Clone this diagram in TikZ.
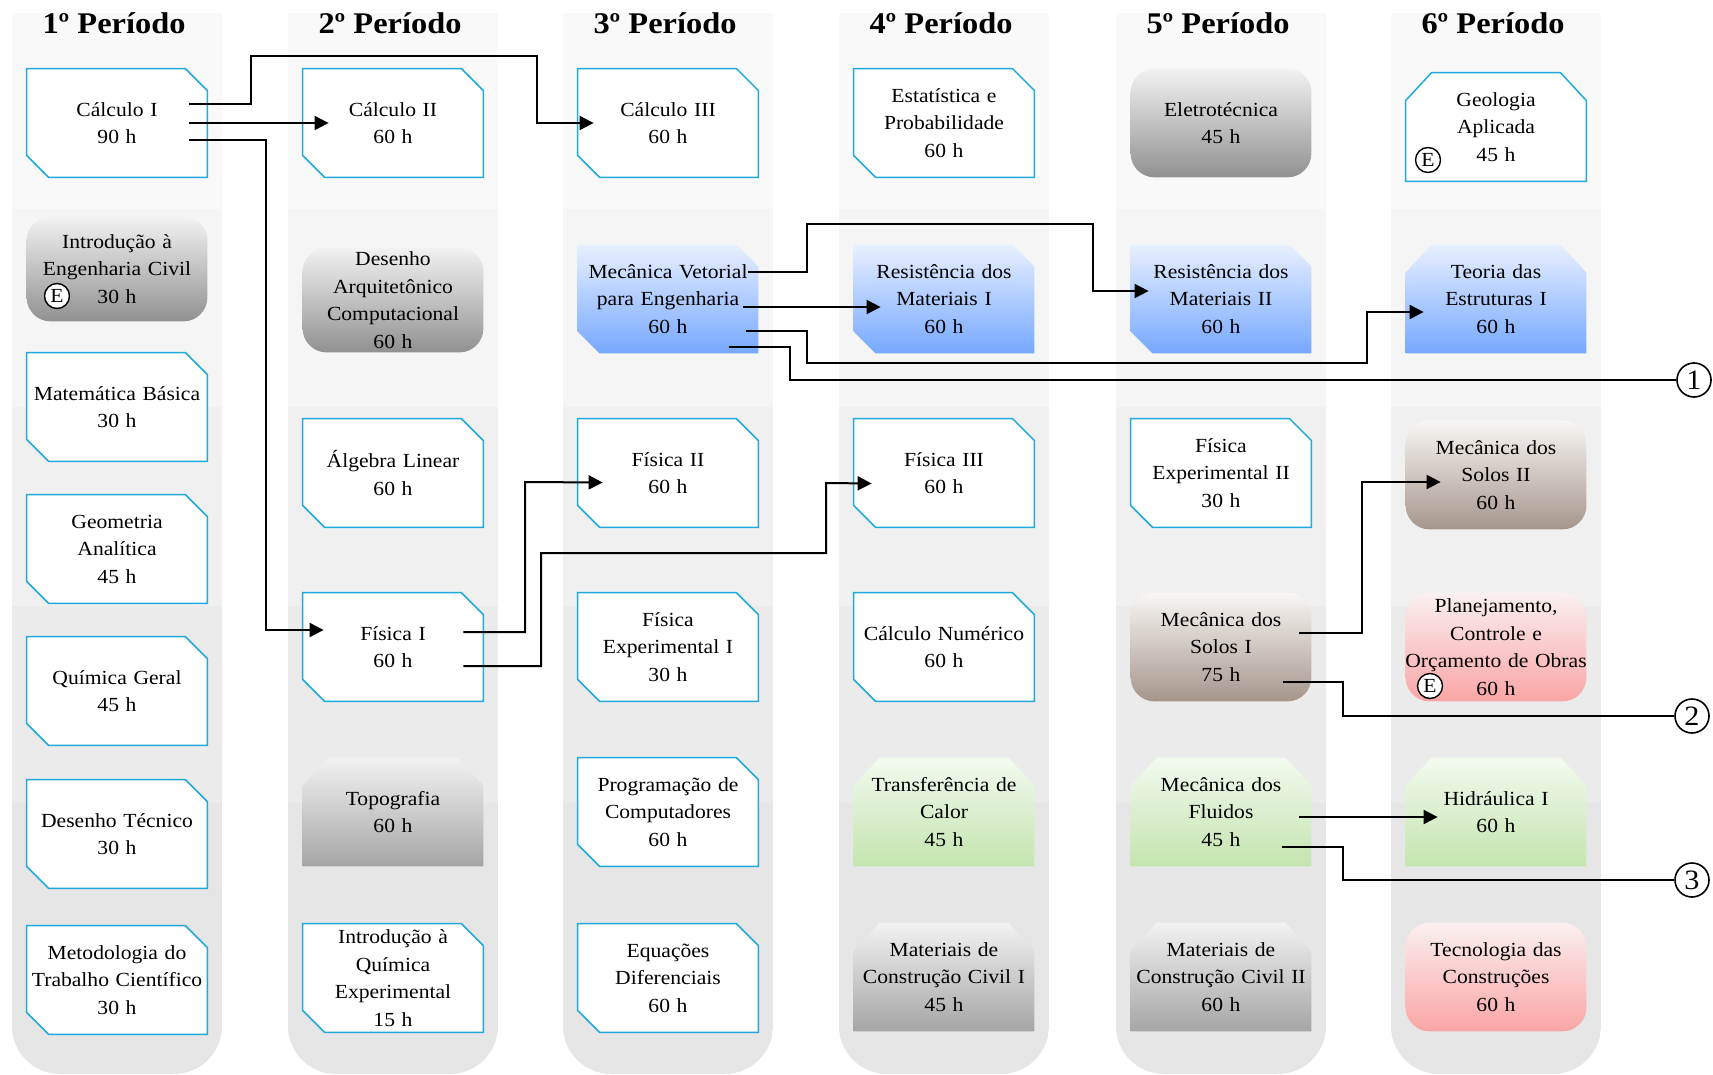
\documentclass[tikz,border=0pt]{standalone}
\usepackage{fontspec}
\setmainfont{Liberation Serif}[FakeStretch=1.08]
\usetikzlibrary{arrows.meta}

\definecolor{boxline}{RGB}{30,170,220}
\definecolor{blueT}{RGB}{232,240,255}
\definecolor{blueB}{RGB}{118,168,255}
\definecolor{grayT}{RGB}{242,242,242}
\definecolor{grayB}{RGB}{145,145,145}
\definecolor{grayB2}{RGB}{165,165,165}
\definecolor{brownT}{RGB}{248,246,244}
\definecolor{brownB}{RGB}{165,150,140}
\definecolor{greenT}{RGB}{243,250,239}
\definecolor{greenB}{RGB}{195,229,175}
\definecolor{redT}{RGB}{250,240,240}
\definecolor{redB}{RGB}{250,165,165}
\definecolor{bandA}{RGB}{249,249,249}
\definecolor{bandB}{RGB}{245,245,245}
\definecolor{bandC}{RGB}{240,240,240}
\definecolor{bandD}{RGB}{235,235,235}
\definecolor{bandE}{RGB}{230,230,230}

\pgfdeclarelayer{bg}
\pgfdeclarelayer{mid}
\pgfsetlayers{bg,mid,main}

\newcommand{\boxfont}{\fontsize{10}{13.75}\selectfont}
\newcommand{\titlefont}{\fontsize{15}{15}\selectfont\bfseries}
\newcommand{\wideline}[1]{\makebox[\linewidth]{#1}}
% outline with top right and bottom left corners cut
\newcommand{\snippath}[1]{(#1.north west) -- ([xshift=-11pt]#1.north east) -- ([yshift=-11pt]#1.north east) -- (#1.south east) -- ([xshift=11pt]#1.south west) -- ([yshift=11pt]#1.south west) -- cycle}
% outline with both top corners cut
\newcommand{\snipuppath}[1]{([yshift=-14pt]#1.north west) -- ([xshift=13pt]#1.north west) -- ([xshift=-13pt]#1.north east) -- ([yshift=-14pt]#1.north east) -- (#1.south east) -- (#1.south west) -- cycle}

\begin{document}
\begin{tikzpicture}[x=0.5pt, y=-0.5pt,
    box/.style={rectangle, text width=90pt, minimum height=54pt, inner sep=0pt, align=center, font=\boxfont},
    plain/.style={draw=boxline, line width=0.75pt, fill=white},
    blueshade/.style={top color=blueT, bottom color=blueB},
    grayshade/.style={top color=grayT, bottom color=grayB},
    lightgray/.style={top color=grayT, bottom color=grayB2},
    brownshade/.style={top color=brownT, bottom color=brownB},
    greenshade/.style={top color=greenT, bottom color=greenB},
    redshade/.style={top color=redT, bottom color=redB},
    title/.style={anchor=base, font=\titlefont},
    emark/.style={circle, draw, fill=white, line width=0.7pt, minimum size=12.5pt, inner sep=0pt, font=\fontsize{10}{10}\selectfont},
    numc/.style={circle, draw, line width=0.8pt, minimum size=17pt, inner sep=0pt, font=\fontsize{14}{14}\selectfont},
    link/.style={line width=1pt},
    arr/.style={link, -{Triangle[length=7pt,width=7pt]}}]

\useasboundingbox (0,0) rectangle (1713,1075);

% Background columns
\begin{pgfonlayer}{bg}
\foreach \cx in {117,393,668,944,1221,1496}{
  \begin{scope}
    \clip[rounded corners=24pt] (\cx-105,-100) rectangle (\cx+105,1074);
    \foreach \ya/\yb/\bc in {13.5/209/bandA, 209/407/bandB, 407/606/bandC, 606/803/bandD, 803/1080/bandE}
      \fill[\bc] (\cx-105,\ya) rectangle (\cx+105,\yb);
  \end{scope}
}
\end{pgfonlayer}

% Titles
\node at (114,34) (p1) [title] {1º Período};
\node at (390,34) (p2) [title] {2º Período};
\node at (665,34) (p3) [title] {3º Período};
\node at (941,34) (p4) [title] {4º Período};
\node at (1218,34) (p5) [title] {5º Período};
\node at (1493,34) (p6) [title] {6º Período};

% 1st period
\node at (117,123) (calcI) [box] {Cálculo I\\90 h};
\node at (117,269) (introeng) [box, minimum height=52pt] {Introdução à\\Engenharia Civil\\30 h};
\node at (117,407) (matbas) [box] {Matemática Básica\\30 h};
\node at (117,549) (geoan) [box] {Geometria\\Analítica\\45 h};
\node at (117,691) (quimger) [box] {Química Geral\\45 h};
\node at (117,834) (destec) [box] {Desenho Técnico\\30 h};
\node at (117,980) (metod) [box] {Metodologia do\\Trabalho Científico\\30 h};

% 2nd period
\node at (393,123) (calcII) [box] {Cálculo II\\60 h};
\node at (393,300) (desarq) [box, minimum height=52pt] {Desenho\\Arquitetônico\\Computacional\\60 h};
\node at (393,473) (alglin) [box] {Álgebra Linear\\60 h};
\node at (393,647) (fisI) [box] {Física I\\60 h};
\node at (393,812) (topo) [box] {Topografia\\60 h};
\node at (393,978) (introquim) [box] {Introdução à\\Química\\Experimental\\15 h};

% 3rd period
\node at (668,123) (calcIII) [box] {Cálculo III\\60 h};
\node at (668,299) (mecvet) [box] {Mecânica Vetorial\\para Engenharia\\60 h};
\node at (668,473) (fisII) [box] {Física II\\60 h};
\node at (668,647) (fisexpI) [box] {Física\\Experimental I\\30 h};
\node at (668,812) (prog) [box] {Programação de\\Computadores\\60 h};
\node at (668,978) (eqdif) [box] {Equações\\Diferenciais\\60 h};

% 4th period
\node at (944,123) (estat) [box] {Estatística e\\Probabilidade\\60 h};
\node at (944,299) (resI) [box] {Resistência dos\\Materiais I\\60 h};
\node at (944,473) (fisIII) [box] {Física III\\60 h};
\node at (944,647) (calcnum) [box] {Cálculo Numérico\\60 h};
\node at (944,812) (transf) [box] {Transferência de\\Calor\\45 h};
\node at (944,977) (matI) [box] {Materiais de\\Construção Civil I\\45 h};

% 5th period
\node at (1221,123) (eletro) [box] {Eletrotécnica\\45 h};
\node at (1221,299) (resII) [box] {Resistência dos\\Materiais II\\60 h};
\node at (1221,473) (fisexpII) [box] {Física\\Experimental II\\30 h};
\node at (1221,647) (solosI) [box] {Mecânica dos\\Solos I\\75 h};
\node at (1221,812) (fluidos) [box] {Mecânica dos\\Fluidos\\45 h};
\node at (1221,977) (matII) [box] {Materiais de\\Construção Civil II\\60 h};

% 6th period
\node at (1496,127) (geol) [box] {Geologia\\Aplicada\\45 h};
\node at (1496,299) (teoria) [box] {Teoria das\\Estruturas I\\60 h};
\node at (1496,475) (solosII) [box] {Mecânica dos\\Solos II\\60 h};
\node at (1496,647) (planej) [box] {Planejamento,\\Controle e\\\wideline{Orçamento de Obras}\\60 h};
\node at (1496,812) (hidr) [box] {Hidráulica I\\60 h};
\node at (1496,977) (tecno) [box] {Tecnologia das\\Construções\\60 h};

% Box outlines
\begin{pgfonlayer}{mid}
\foreach \n in {calcI,matbas,geoan,quimger,destec,metod,calcII,alglin,fisI,introquim,calcIII,fisII,fisexpI,prog,eqdif,estat,fisIII,calcnum,fisexpII}
  \draw[plain] \snippath{\n};
\foreach \n in {mecvet,resI,resII}
  \path[blueshade] \snippath{\n};
\draw[plain] \snipuppath{geol};
\path[blueshade] \snipuppath{teoria};
\foreach \n/\s in {topo/lightgray, matI/lightgray, matII/lightgray, transf/greenshade, fluidos/greenshade, hidr/greenshade}
  \path[\s] \snipuppath{\n};
\foreach \n/\s in {introeng/grayshade, desarq/grayshade, eletro/grayshade, solosI/brownshade, solosII/brownshade, planej/redshade, tecno/redshade}
  \path[\s, rounded corners=12pt] (\n.north west) rectangle (\n.south east);
\end{pgfonlayer}

% Elective marks
\node at (57,296) (e1) [emark] {E};
\node at (1428,160) (e2) [emark] {E};
\node at (1430,686) (e3) [emark] {E};

% Continuation marks
\node at (1694,380) (n1) [numc] {1};
\node at (1692,716) (n2) [numc] {2};
\node at (1692,880) (n3) [numc] {3};

% Prerequisites
\draw[arr] ([shift={(-18,-19)}]calcI.east) -| (251,56) -| (537,123) -- ([xshift=8pt]calcIII.west);
\draw[arr] ([xshift=-9pt]calcI.east) -- ([xshift=13pt]calcII.west);
\draw[arr] ([shift={(-18,17)}]calcI.east) -| (266,630) -- ([shift={(21,-17)}]fisI.west);
\draw[arr] ([shift={(-20,-15)}]fisI.east) -| (525,482) -- ([shift={(25,9.5)}]fisII.west);
\draw[arr] ([shift={(-20,19)}]fisI.east) -| (541,553) -| (826,483) -- ([shift={(18,10.5)}]fisIII.west);
\draw[arr] ([shift={(-10,-27)}]mecvet.east) -| (807,224) -| (1093,291) -- ([shift={(18,-8)}]resII.west);
\draw[arr] ([shift={(-15,8)}]mecvet.east) -- ([shift={(27,8)}]resI.west);
\draw[arr] ([shift={(-12,32)}]mecvet.east) -| (807,363) -| (1367,312) -- ([shift={(18,13)}]teoria.west);
\draw[link] ([shift={(-29,48)}]mecvet.east) -| (790,380) -- (n1);
\draw[arr] ([shift={(-12,-14)}]solosI.east) -| (1362,482) -- ([shift={(35,7)}]solosII.west);
\draw[link] ([shift={(-28,35)}]solosI.east) -| (1343,716) -- (n2);
\draw[arr] ([shift={(-12,5)}]fluidos.east) -- ([shift={(32,5)}]hidr.west);
\draw[link] ([shift={(-29,35)}]fluidos.east) -| (1343,880) -- (n3);

\end{tikzpicture}
\end{document}
